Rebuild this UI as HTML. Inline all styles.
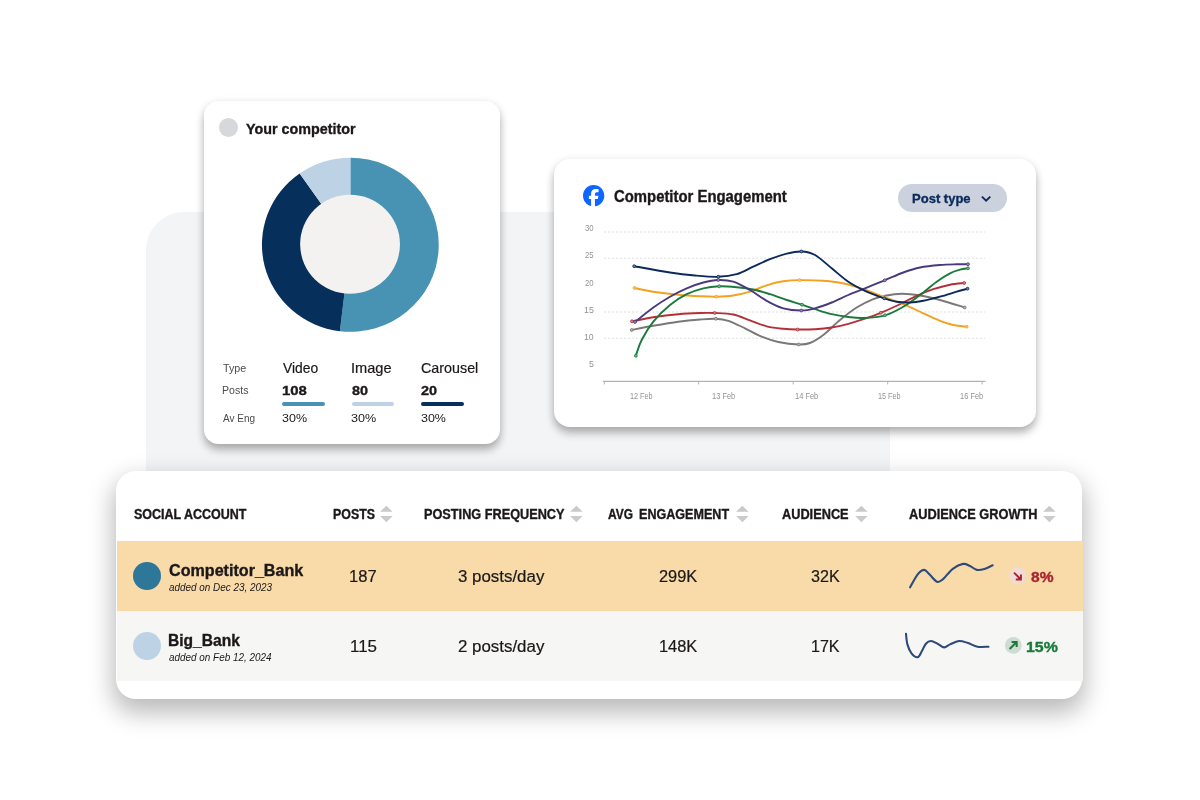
<!DOCTYPE html>
<html lang="en">
<head>
<meta charset="utf-8">
<title>Competitor analysis dashboard</title>
<style>
*{box-sizing:border-box;margin:0;padding:0}
html,body{width:1200px;height:800px;background:#fff;overflow:hidden}
body{position:relative;font-family:"Liberation Sans",Arial,sans-serif;color:#1c1819}
.abs{position:absolute}
.t{position:absolute;white-space:nowrap;line-height:normal;transform-origin:0 50%;display:block}
.panel{position:absolute;left:145.6px;top:211.8px;width:744px;height:259px;background:#f3f4f6;border-radius:38px 0 0 0}
.card{position:absolute;background:#fff}
#c1{left:203.8px;top:100.5px;width:295.9px;height:343.5px;border-radius:14.5px;box-shadow:0 6px 8px rgba(0,0,0,.27),0 1px 10px rgba(0,0,0,.08)}
#c2{left:554px;top:159px;width:482.2px;height:267.8px;border-radius:16px;box-shadow:0 6px 8px rgba(0,0,0,.27),0 1px 10px rgba(0,0,0,.08)}
#c3{left:116.3px;top:471.3px;width:966.2px;height:227.5px;border-radius:20px;box-shadow:0 11px 25px 3px rgba(0,0,0,.27)}
.row{position:absolute;left:116.5px;width:966px}
#r1{top:541.3px;height:69.5px;background:#f8dba9}
#r2{top:610.7px;height:70px;background:#f6f6f4}
.dot{position:absolute;border-radius:50%}
.bar{position:absolute;height:4px;border-radius:2px;top:401.7px;width:42.5px}
.pill{position:absolute;left:898px;top:183.5px;width:109.2px;height:28px;border-radius:14px;background:#cbd2dd}
svg{position:absolute;left:0;top:0;overflow:visible}
</style>
</head>
<body>
<main>
<div class="panel"></div>

<section id="competitor-card" aria-label="Your competitor">
<div class="card" id="c1"></div>
<div class="dot" style="left:219.1px;top:117.7px;width:19.2px;height:19.2px;background:#d5d9d9"></div>
<svg width="1200" height="800" viewBox="0 0 1200 800" role="img" aria-label="Post type share donut chart">
<path d="M350.35 244.75 L350.35 157.75 A88.40 87.00 0 1 1 339.88 331.14 Z" fill="#4893b4"/>
<path d="M350.35 244.75 L339.88 331.14 A88.40 87.00 0 0 1 299.65 173.48 Z" fill="#06305b"/>
<path d="M350.35 244.75 L299.65 173.48 A88.40 87.00 0 0 1 350.35 157.75 Z" fill="#bdd3e5"/>
<ellipse cx="350.05" cy="244.30" rx="49.90" ry="49.50" fill="#f3f2f1"/>
</svg>
<div class="bar" style="left:282.4px;background:#4893b4"></div>
<div class="bar" style="left:351.8px;background:#bdd3e5"></div>
<div class="bar" style="left:421.1px;background:#06305b"></div>
<span class="t" id="t0" style="left:246.44px;top:121.00px;font-size:14.80px;color:#1c1819;font-weight:700;-webkit-text-stroke:0.35px;transform:scaleX(0.9683);">Your competitor</span>
<span class="t" id="t1" style="left:222.70px;top:362.00px;font-size:10.90px;color:#4d4b4c;transform:scaleX(0.9820);">Type</span>
<span class="t" id="t2" style="left:221.64px;top:384.00px;font-size:10.90px;color:#4d4b4c;transform:scaleX(0.9719);">Posts</span>
<span class="t" id="t3" style="left:222.70px;top:412.00px;font-size:10.90px;color:#4d4b4c;transform:scaleX(0.9163);">Av Eng</span>
<span class="t" id="t4" style="left:282.70px;top:360.00px;font-size:14.40px;color:#1c1819;-webkit-text-stroke:0.20px;transform:scaleX(0.9631);">Video</span>
<span class="t" id="t5" style="left:351.10px;top:360.00px;font-size:14.40px;color:#1c1819;-webkit-text-stroke:0.20px;transform:scaleX(1.0158);">Image</span>
<span class="t" id="t6" style="left:420.71px;top:360.00px;font-size:14.40px;color:#1c1819;-webkit-text-stroke:0.20px;transform:scaleX(0.9946);">Carousel</span>
<span class="t" id="t7" style="left:282.42px;top:383.00px;font-size:13.10px;color:#1c1819;font-weight:700;-webkit-text-stroke:0.35px;transform:scaleX(1.1396);">108</span>
<span class="t" id="t8" style="left:351.81px;top:383.00px;font-size:13.10px;color:#1c1819;font-weight:700;-webkit-text-stroke:0.35px;transform:scaleX(1.0981);">80</span>
<span class="t" id="t9" style="left:421.43px;top:383.00px;font-size:13.10px;color:#1c1819;font-weight:700;-webkit-text-stroke:0.35px;transform:scaleX(1.0998);">20</span>
<span class="t" id="t10" style="left:282.05px;top:411.00px;font-size:11.70px;color:#1c1819;transform:scaleX(1.0686);">30%</span>
<span class="t" id="t11" style="left:350.97px;top:411.00px;font-size:11.70px;color:#1c1819;transform:scaleX(1.0759);">30%</span>
<span class="t" id="t12" style="left:421.04px;top:411.00px;font-size:11.70px;color:#1c1819;transform:scaleX(1.0658);">30%</span>
</section>

<section id="engagement-card" aria-label="Competitor Engagement">
<div class="card" id="c2"></div>
<svg class="abs" style="left:582.85px;top:184.85px" width="21.3" height="21.3" viewBox="0 0 24 24"><circle cx="12" cy="12" r="11" fill="#fff"/><path d="M9.101 23.691v-7.98H6.627v-3.667h2.474v-1.58c0-4.085 1.848-5.978 5.858-5.978.401 0 .955.042 1.468.103a8.68 8.68 0 0 1 1.141.195v3.325a8.623 8.623 0 0 0-.653-.036 26.805 26.805 0 0 0-.733-.009c-.707 0-1.259.096-1.675.309a1.686 1.686 0 0 0-.679.622c-.258.42-.374.995-.374 1.752v1.297h3.919l-.386 2.103-.287 1.564h-3.246v8.245C19.396 23.238 24 18.179 24 12.044c0-6.627-5.373-12-12-12s-12 5.373-12 12c0 5.628 3.874 10.35 9.101 11.647Z" fill="#0c66ff"/></svg>
<div class="pill"></div>
<svg class="abs" style="left:980px;top:194px" width="12" height="10" viewBox="0 0 12 10"><path d="M1.9 2.6L6.1 6.7L10.3 2.6" fill="none" stroke="#0b2a5b" stroke-width="1.9" stroke-linecap="butt" stroke-linejoin="miter"/></svg>
<svg width="1200" height="800" viewBox="0 0 1200 800" role="img" aria-label="Engagement line chart">
<line x1="604" y1="232.0" x2="985" y2="232.0" stroke="#e1e1e1" stroke-width="1" stroke-dasharray="2.3 1.7"/>
<line x1="604" y1="258.2" x2="985" y2="258.2" stroke="#e1e1e1" stroke-width="1" stroke-dasharray="2.3 1.7"/>
<line x1="604" y1="312.0" x2="985" y2="312.0" stroke="#e1e1e1" stroke-width="1" stroke-dasharray="2.3 1.7"/>
<line x1="604" y1="338.2" x2="985" y2="338.2" stroke="#e1e1e1" stroke-width="1" stroke-dasharray="2.3 1.7"/>
<path d="M603 381.3H985.5" stroke="#b3b3b3" stroke-width="1.2" fill="none"/>
<path d="M604.3 381.3V384.4" stroke="#b3b3b3" stroke-width="1" fill="none"/>
<path d="M698.6 381.3V384.4" stroke="#b3b3b3" stroke-width="1" fill="none"/>
<path d="M793.2 381.3V384.4" stroke="#b3b3b3" stroke-width="1" fill="none"/>
<path d="M887.7 381.3V384.4" stroke="#b3b3b3" stroke-width="1" fill="none"/>
<path d="M982.1 381.3V384.4" stroke="#b3b3b3" stroke-width="1" fill="none"/>
<path d="M631.70 330.00C635.30 329.30 645.53 327.18 653.30 325.80C661.07 324.42 670.52 322.75 678.30 321.70C686.08 320.65 693.75 319.98 700.00 319.50C706.25 319.02 711.08 318.58 715.80 318.80C720.52 319.02 723.43 319.22 728.30 320.80C733.17 322.38 739.43 325.65 745.00 328.30C750.57 330.95 756.15 334.42 761.70 336.70C767.25 338.98 772.13 340.70 778.30 342.00C784.47 343.30 793.42 344.33 798.70 344.50C803.98 344.67 805.90 344.58 810.00 343.00C814.10 341.42 818.30 338.83 823.30 335.00C828.30 331.17 834.43 324.58 840.00 320.00C845.57 315.42 851.15 310.97 856.70 307.50C862.25 304.03 868.58 301.15 873.30 299.20C878.02 297.25 880.27 296.70 885.00 295.80C889.73 294.90 895.87 293.85 901.70 293.80C907.53 293.75 913.62 294.47 920.00 295.50C926.38 296.53 932.55 298.00 940.00 300.00C947.45 302.00 960.58 306.25 964.70 307.50" stroke="#7b7677" stroke-width="1.9" fill="none" stroke-linecap="round"/>
<circle cx="631.70" cy="330.00" r="1.45" fill="#b2b0b0" stroke="#7b7677" stroke-width="0.8"/>
<circle cx="715.80" cy="318.80" r="1.45" fill="#b2b0b0" stroke="#7b7677" stroke-width="0.8"/>
<circle cx="798.70" cy="344.50" r="1.45" fill="#b2b0b0" stroke="#7b7677" stroke-width="0.8"/>
<circle cx="964.70" cy="307.50" r="1.45" fill="#b2b0b0" stroke="#7b7677" stroke-width="0.8"/>
<path d="M632.00 321.30C635.55 320.62 645.58 318.38 653.30 317.20C661.02 316.02 670.52 314.90 678.30 314.20C686.08 313.50 693.93 313.20 700.00 313.00C706.07 312.80 709.15 312.75 714.70 313.00C720.25 313.25 727.42 313.28 733.30 314.50C739.18 315.72 744.43 318.33 750.00 320.30C755.57 322.27 761.15 324.88 766.70 326.30C772.25 327.72 778.17 328.27 783.30 328.80C788.43 329.33 792.22 329.43 797.50 329.50C802.78 329.57 809.30 329.53 815.00 329.20C820.70 328.87 826.15 328.40 831.70 327.50C837.25 326.60 842.75 325.27 848.30 323.80C853.85 322.33 859.58 320.53 865.00 318.70C870.42 316.87 875.25 315.08 880.80 312.80C886.35 310.52 892.32 307.83 898.30 305.00C904.28 302.17 910.87 298.43 916.70 295.80C922.53 293.17 927.75 291.05 933.30 289.20C938.85 287.35 944.85 285.73 950.00 284.70C955.15 283.67 961.83 283.28 964.20 283.00" stroke="#b42f37" stroke-width="1.9" fill="none" stroke-linecap="round"/>
<circle cx="632.00" cy="321.30" r="1.45" fill="#d4868b" stroke="#b42f37" stroke-width="0.8"/>
<circle cx="714.70" cy="313.00" r="1.45" fill="#d4868b" stroke="#b42f37" stroke-width="0.8"/>
<circle cx="797.50" cy="329.50" r="1.45" fill="#d4868b" stroke="#b42f37" stroke-width="0.8"/>
<circle cx="880.80" cy="312.80" r="1.45" fill="#d4868b" stroke="#b42f37" stroke-width="0.8"/>
<circle cx="964.20" cy="283.00" r="1.45" fill="#d4868b" stroke="#b42f37" stroke-width="0.8"/>
<path d="M634.50 288.00C637.63 288.62 646.00 290.58 653.30 291.70C660.60 292.82 670.52 293.95 678.30 294.70C686.08 295.45 693.67 295.87 700.00 296.20C706.33 296.53 710.75 296.82 716.30 296.70C721.85 296.58 727.68 296.33 733.30 295.50C738.92 294.67 744.43 293.40 750.00 291.70C755.57 290.00 761.15 287.03 766.70 285.30C772.25 283.57 777.80 282.17 783.30 281.30C788.80 280.43 793.03 280.18 799.70 280.10C806.37 280.02 815.75 280.20 823.30 280.80C830.85 281.40 838.33 282.30 845.00 283.70C851.67 285.10 856.92 287.03 863.30 289.20C869.68 291.37 876.63 294.20 883.30 296.70C889.97 299.20 896.63 301.43 903.30 304.20C909.97 306.97 917.18 310.53 923.30 313.30C929.42 316.07 935.00 318.85 940.00 320.80C945.00 322.75 948.85 324.02 953.30 325.00C957.75 325.98 964.47 326.42 966.70 326.70" stroke="#f4a11d" stroke-width="1.9" fill="none" stroke-linecap="round"/>
<circle cx="634.50" cy="288.00" r="1.45" fill="#f9c87c" stroke="#f4a11d" stroke-width="0.8"/>
<circle cx="716.30" cy="296.70" r="1.45" fill="#f9c87c" stroke="#f4a11d" stroke-width="0.8"/>
<circle cx="799.70" cy="280.10" r="1.45" fill="#f9c87c" stroke="#f4a11d" stroke-width="0.8"/>
<circle cx="883.30" cy="296.70" r="1.45" fill="#f9c87c" stroke="#f4a11d" stroke-width="0.8"/>
<circle cx="966.70" cy="326.70" r="1.45" fill="#f9c87c" stroke="#f4a11d" stroke-width="0.8"/>
<path d="M635.80 355.80C636.78 353.17 638.78 345.68 641.70 340.00C644.62 334.32 648.58 327.53 653.30 321.70C658.02 315.87 664.43 309.58 670.00 305.00C675.57 300.42 681.15 296.98 686.70 294.20C692.25 291.42 697.88 289.62 703.30 288.30C708.72 286.98 713.63 286.48 719.20 286.30C724.77 286.12 731.02 286.67 736.70 287.20C742.38 287.73 747.75 288.33 753.30 289.50C758.85 290.67 764.43 292.45 770.00 294.20C775.57 295.95 781.37 298.25 786.70 300.00C792.03 301.75 797.28 303.17 802.00 304.70C806.72 306.23 810.05 307.62 815.00 309.20C819.95 310.78 826.15 312.90 831.70 314.20C837.25 315.50 843.03 316.37 848.30 317.00C853.57 317.63 857.18 318.28 863.30 318.00C869.42 317.72 878.33 317.18 885.00 315.30C891.67 313.42 897.47 310.08 903.30 306.70C909.13 303.32 914.43 299.17 920.00 295.00C925.57 290.83 931.70 285.32 936.70 281.70C941.70 278.08 946.12 275.30 950.00 273.30C953.88 271.30 957.00 270.53 960.00 269.70C963.00 268.87 966.67 268.53 968.00 268.30" stroke="#1b7a3b" stroke-width="1.9" fill="none" stroke-linecap="round"/>
<circle cx="635.80" cy="355.80" r="1.45" fill="#7bb28d" stroke="#1b7a3b" stroke-width="0.8"/>
<circle cx="719.20" cy="286.30" r="1.45" fill="#7bb28d" stroke="#1b7a3b" stroke-width="0.8"/>
<circle cx="802.00" cy="304.70" r="1.45" fill="#7bb28d" stroke="#1b7a3b" stroke-width="0.8"/>
<circle cx="885.00" cy="315.30" r="1.45" fill="#7bb28d" stroke="#1b7a3b" stroke-width="0.8"/>
<circle cx="968.00" cy="268.30" r="1.45" fill="#7bb28d" stroke="#1b7a3b" stroke-width="0.8"/>
<path d="M635.00 322.00C638.05 319.58 647.47 311.72 653.30 307.50C659.13 303.28 664.43 299.90 670.00 296.70C675.57 293.50 681.15 290.67 686.70 288.30C692.25 285.93 698.03 283.88 703.30 282.50C708.57 281.12 713.30 280.13 718.30 280.00C723.30 279.87 728.02 280.03 733.30 281.70C738.58 283.37 744.43 286.82 750.00 290.00C755.57 293.18 761.15 297.75 766.70 300.80C772.25 303.85 777.53 306.68 783.30 308.30C789.07 309.92 796.02 310.50 801.30 310.50C806.58 310.50 809.93 309.63 815.00 308.30C820.07 306.97 826.15 304.72 831.70 302.50C837.25 300.28 842.75 297.37 848.30 295.00C853.85 292.63 858.93 290.75 865.00 288.30C871.07 285.85 878.32 282.93 884.70 280.30C891.08 277.67 897.42 274.63 903.30 272.50C909.18 270.37 913.88 268.75 920.00 267.50C926.12 266.25 933.88 265.53 940.00 265.00C946.12 264.47 952.03 264.43 956.70 264.30C961.37 264.17 966.12 264.22 968.00 264.20" stroke="#4a3a7d" stroke-width="1.9" fill="none" stroke-linecap="round"/>
<circle cx="635.00" cy="322.00" r="1.45" fill="#968db4" stroke="#4a3a7d" stroke-width="0.8"/>
<circle cx="718.30" cy="280.00" r="1.45" fill="#968db4" stroke="#4a3a7d" stroke-width="0.8"/>
<circle cx="801.30" cy="310.50" r="1.45" fill="#968db4" stroke="#4a3a7d" stroke-width="0.8"/>
<circle cx="884.70" cy="280.30" r="1.45" fill="#968db4" stroke="#4a3a7d" stroke-width="0.8"/>
<circle cx="968.00" cy="264.20" r="1.45" fill="#968db4" stroke="#4a3a7d" stroke-width="0.8"/>
<path d="M634.20 266.20C640.17 267.25 659.87 270.95 670.00 272.50C680.13 274.05 686.95 274.78 695.00 275.50C703.05 276.22 711.35 277.02 718.30 276.80C725.25 276.58 730.87 275.88 736.70 274.20C742.53 272.52 747.75 269.20 753.30 266.70C758.85 264.20 764.43 261.37 770.00 259.20C775.57 257.03 781.48 254.98 786.70 253.70C791.92 252.42 796.58 251.28 801.30 251.50C806.02 251.72 809.93 252.20 815.00 255.00C820.07 257.80 826.15 263.85 831.70 268.30C837.25 272.75 842.75 277.95 848.30 281.70C853.85 285.45 859.02 288.03 865.00 290.80C870.98 293.57 878.92 296.48 884.20 298.30C889.48 300.12 892.40 301.00 896.70 301.70C901.00 302.40 905.57 302.65 910.00 302.50C914.43 302.35 918.30 301.77 923.30 300.80C928.30 299.83 934.43 298.22 940.00 296.70C945.57 295.18 952.12 293.03 956.70 291.70C961.28 290.37 965.70 289.20 967.50 288.70" stroke="#0b2a5b" stroke-width="1.9" fill="none" stroke-linecap="round"/>
<circle cx="634.20" cy="266.20" r="1.45" fill="#7183a0" stroke="#0b2a5b" stroke-width="0.8"/>
<circle cx="718.30" cy="276.80" r="1.45" fill="#7183a0" stroke="#0b2a5b" stroke-width="0.8"/>
<circle cx="801.30" cy="251.50" r="1.45" fill="#7183a0" stroke="#0b2a5b" stroke-width="0.8"/>
<circle cx="884.20" cy="298.30" r="1.45" fill="#7183a0" stroke="#0b2a5b" stroke-width="0.8"/>
<circle cx="967.50" cy="288.70" r="1.45" fill="#7183a0" stroke="#0b2a5b" stroke-width="0.8"/>
</svg>
<span class="t" id="t13" style="left:614.08px;top:188.00px;font-size:15.60px;color:#1c1819;font-weight:700;-webkit-text-stroke:0.35px;transform:scaleX(0.9540);">Competitor Engagement</span>
<span class="t" id="t14" style="left:911.53px;top:191.00px;font-size:13.00px;color:#0b2a5b;font-weight:700;-webkit-text-stroke:0.35px;transform:scaleX(1.0015);">Post type</span>
<span class="t" id="t15" style="left:584.80px;top:223.00px;font-size:8.60px;color:#939393;transform:scaleX(0.8993);">30</span>
<span class="t" id="t16" style="left:584.80px;top:250.00px;font-size:8.60px;color:#939393;transform:scaleX(0.8993);">25</span>
<span class="t" id="t17" style="left:584.80px;top:278.00px;font-size:8.60px;color:#939393;transform:scaleX(0.8993);">20</span>
<span class="t" id="t18" style="left:583.82px;top:305.00px;font-size:8.60px;color:#939393;transform:scaleX(1.0259);">15</span>
<span class="t" id="t19" style="left:583.82px;top:332.00px;font-size:8.60px;color:#939393;transform:scaleX(1.0163);">10</span>
<span class="t" id="t20" style="left:589.45px;top:359.00px;font-size:8.60px;color:#939393;transform:scaleX(1.0355);">5</span>
<span class="t" id="t21" style="left:630.00px;top:391.00px;font-size:8.60px;color:#939393;transform:scaleX(0.8406);">12 Feb</span>
<span class="t" id="t22" style="left:711.65px;top:391.00px;font-size:8.60px;color:#939393;transform:scaleX(0.8692);">13 Feb</span>
<span class="t" id="t23" style="left:794.65px;top:391.00px;font-size:8.60px;color:#939393;transform:scaleX(0.8692);">14 Feb</span>
<span class="t" id="t24" style="left:878.00px;top:391.00px;font-size:8.60px;color:#939393;transform:scaleX(0.8406);">15 Feb</span>
<span class="t" id="t25" style="left:959.65px;top:391.00px;font-size:8.60px;color:#939393;transform:scaleX(0.8692);">16 Feb</span>
</section>

<section id="accounts-table" aria-label="Social accounts">
<div class="card" id="c3"></div>
<div class="row" id="r1"></div>
<div class="row" id="r2"></div>
<svg class="abs" style="left:380.10px;top:505px" width="13" height="18" viewBox="0 0 13 18"><path d="M0.1 6.8L6.35 0.7L12.6 6.8Z" fill="#c9c9c9"/><path d="M0.1 11L6.35 17.3L12.6 11Z" fill="#cbcbcb"/></svg>
<svg class="abs" style="left:569.90px;top:505px" width="13" height="18" viewBox="0 0 13 18"><path d="M0.1 6.8L6.35 0.7L12.6 6.8Z" fill="#c9c9c9"/><path d="M0.1 11L6.35 17.3L12.6 11Z" fill="#cbcbcb"/></svg>
<svg class="abs" style="left:736.40px;top:505px" width="13" height="18" viewBox="0 0 13 18"><path d="M0.1 6.8L6.35 0.7L12.6 6.8Z" fill="#c9c9c9"/><path d="M0.1 11L6.35 17.3L12.6 11Z" fill="#cbcbcb"/></svg>
<svg class="abs" style="left:855.20px;top:505px" width="13" height="18" viewBox="0 0 13 18"><path d="M0.1 6.8L6.35 0.7L12.6 6.8Z" fill="#c9c9c9"/><path d="M0.1 11L6.35 17.3L12.6 11Z" fill="#cbcbcb"/></svg>
<svg class="abs" style="left:1042.60px;top:505px" width="13" height="18" viewBox="0 0 13 18"><path d="M0.1 6.8L6.35 0.7L12.6 6.8Z" fill="#c9c9c9"/><path d="M0.1 11L6.35 17.3L12.6 11Z" fill="#cbcbcb"/></svg>
<div class="dot" style="left:133.05px;top:561.8px;width:28.4px;height:28.4px;background:#2e7799"></div>
<div class="dot" style="left:133.05px;top:631.8px;width:28.4px;height:28.4px;background:#bdd3e5"></div>
<svg width="1200" height="800" viewBox="0 0 1200 800">
<path d="M910.10 587.30C911.37 585.13 915.35 577.20 917.70 574.30C920.05 571.40 922.25 569.90 924.20 569.90C926.15 569.90 927.27 572.32 929.40 574.30C931.53 576.28 934.72 581.00 937.00 581.80C939.28 582.60 940.47 581.27 943.10 579.10C945.73 576.93 949.47 571.33 952.80 568.80C956.13 566.27 960.23 564.37 963.10 563.90C965.97 563.43 967.72 565.00 970.00 566.00C972.28 567.00 974.40 569.40 976.80 569.90C979.20 570.40 981.75 569.77 984.40 569.00C987.05 568.23 991.32 565.92 992.70 565.30" fill="none" stroke="#2d4a7b" stroke-width="2.1" stroke-linecap="round" stroke-linejoin="round"/>
<path d="M906.00 633.70C906.23 635.48 906.48 641.13 907.40 644.40C908.32 647.67 909.78 651.17 911.50 653.30C913.22 655.43 915.98 657.53 917.70 657.20C919.42 656.87 920.43 653.55 921.80 651.30C923.17 649.05 924.37 645.42 925.90 643.70C927.43 641.98 929.05 641.00 931.00 641.00C932.95 641.00 935.40 642.63 937.60 643.70C939.80 644.77 942.13 647.28 944.20 647.40C946.27 647.52 947.53 645.47 950.00 644.40C952.47 643.33 956.02 641.23 959.00 641.00C961.98 640.77 964.82 642.05 967.90 643.00C970.98 643.95 974.07 646.08 977.50 646.70C980.93 647.32 986.67 646.70 988.50 646.70" fill="none" stroke="#2d4a7b" stroke-width="2.1" stroke-linecap="round" stroke-linejoin="round"/>
<circle cx="1017.6" cy="576" r="8.3" fill="#efdcd8"/>
<path d="M1014 572.6L1020.6 579.2M1020.9 574.4V579.5H1015.8" fill="none" stroke="#a9242d" stroke-width="2"/>
<circle cx="1013.3" cy="645.4" r="8.4" fill="#cfdcd4"/>
<path d="M1009.6 649L1016.4 642.3M1011.6 642H1016.7V647.1" fill="none" stroke="#1a7a3a" stroke-width="2"/>
</svg>
<span class="t" id="t26" style="left:133.75px;top:506.00px;font-size:13.90px;color:#1c1819;font-weight:700;-webkit-text-stroke:0.35px;transform:scaleX(0.8999);">SOCIAL ACCOUNT</span>
<span class="t" id="t27" style="left:333.00px;top:506.00px;font-size:13.90px;color:#1c1819;font-weight:700;-webkit-text-stroke:0.35px;transform:scaleX(0.8918);">POSTS</span>
<span class="t" id="t28" style="left:424.05px;top:506.00px;font-size:13.90px;color:#1c1819;font-weight:700;-webkit-text-stroke:0.35px;transform:scaleX(0.9150);">POSTING FREQUENCY</span>
<span class="t" id="t29" style="left:607.89px;top:506.00px;font-size:13.90px;color:#1c1819;font-weight:700;-webkit-text-stroke:0.35px;transform:scaleX(0.8604);">AVG</span>
<span class="t" id="t30" style="left:639.24px;top:506.00px;font-size:13.90px;color:#1c1819;font-weight:700;-webkit-text-stroke:0.35px;transform:scaleX(0.9051);">ENGAGEMENT</span>
<span class="t" id="t31" style="left:781.88px;top:506.00px;font-size:13.90px;color:#1c1819;font-weight:700;-webkit-text-stroke:0.35px;transform:scaleX(0.9179);">AUDIENCE</span>
<span class="t" id="t32" style="left:909.33px;top:506.00px;font-size:13.90px;color:#1c1819;font-weight:700;-webkit-text-stroke:0.35px;transform:scaleX(0.9198);">AUDIENCE GROWTH</span>
<span class="t" id="t33" style="left:168.75px;top:562.00px;font-size:15.90px;color:#1c1819;font-weight:700;-webkit-text-stroke:0.35px;transform:scaleX(1.0136);">Competitor_Bank</span>
<span class="t" id="t34" style="left:168.75px;top:582.00px;font-size:10.40px;color:#1c1819;font-style:italic;transform:scaleX(0.9533);">added on Dec 23, 2023</span>
<span class="t" id="t35" style="left:167.89px;top:632.00px;font-size:15.90px;color:#1c1819;font-weight:700;-webkit-text-stroke:0.35px;transform:scaleX(0.9801);">Big_Bank</span>
<span class="t" id="t36" style="left:168.75px;top:652.00px;font-size:10.40px;color:#1c1819;font-style:italic;transform:scaleX(0.9538);">added on Feb 12, 2024</span>
<span class="t" id="t37" style="left:349.18px;top:568.00px;font-size:16.00px;color:#1c1819;-webkit-text-stroke:0.20px;transform:scaleX(1.0344);">187</span>
<span class="t" id="t38" style="left:349.71px;top:638.00px;font-size:16.00px;color:#1c1819;-webkit-text-stroke:0.20px;transform:scaleX(1.0569);">115</span>
<span class="t" id="t39" style="left:458.05px;top:568.00px;font-size:16.00px;color:#1c1819;-webkit-text-stroke:0.20px;transform:scaleX(1.0551);">3 posts/day</span>
<span class="t" id="t40" style="left:458.06px;top:638.00px;font-size:16.00px;color:#1c1819;-webkit-text-stroke:0.20px;transform:scaleX(1.0549);">2 posts/day</span>
<span class="t" id="t41" style="left:658.64px;top:568.00px;font-size:16.00px;color:#1c1819;-webkit-text-stroke:0.20px;transform:scaleX(1.0230);">299K</span>
<span class="t" id="t42" style="left:658.95px;top:638.00px;font-size:16.00px;color:#1c1819;-webkit-text-stroke:0.20px;transform:scaleX(1.0251);">148K</span>
<span class="t" id="t43" style="left:810.98px;top:568.00px;font-size:16.00px;color:#1c1819;-webkit-text-stroke:0.20px;transform:scaleX(1.0086);">32K</span>
<span class="t" id="t44" style="left:811.09px;top:638.00px;font-size:16.00px;color:#1c1819;-webkit-text-stroke:0.20px;transform:scaleX(1.0029);">17K</span>
<span class="t" id="t45" style="left:1030.75px;top:569.00px;font-size:14.60px;color:#a9242d;font-weight:700;-webkit-text-stroke:0.35px;transform:scaleX(1.0667);">8%</span>
<span class="t" id="t46" style="left:1026.00px;top:639.00px;font-size:14.60px;color:#1a7a3a;font-weight:700;-webkit-text-stroke:0.35px;transform:scaleX(1.0913);">15%</span>
</section>
</main>
</body>
</html>
